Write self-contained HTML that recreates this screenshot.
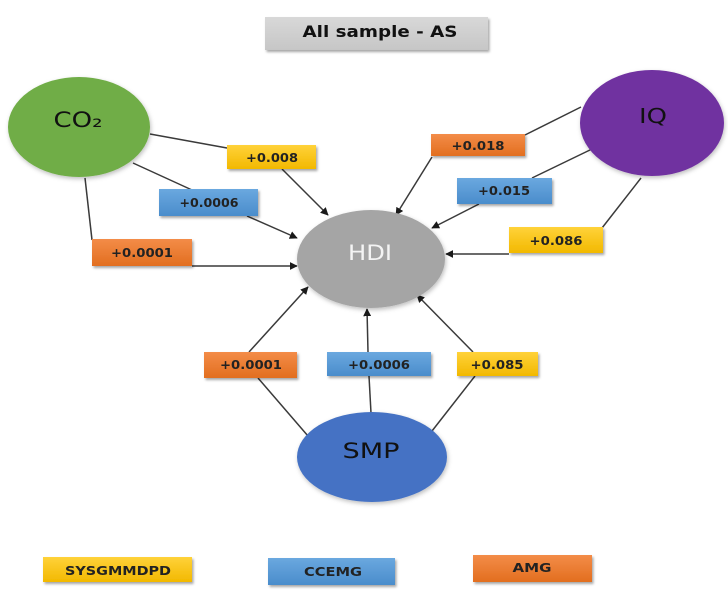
<!DOCTYPE html>
<html><head><meta charset="utf-8"><style>
html,body{margin:0;padding:0;background:#fff;}
svg{display:block;}
text{font-family:"DejaVu Sans","Liberation Sans",sans-serif;}
</style></head><body>
<svg width="728" height="595" viewBox="0 0 728 595" xmlns="http://www.w3.org/2000/svg">
<defs>
<filter id="sh" x="-10%" y="-10%" width="130%" height="150%">
<feDropShadow dx="1.5" dy="2" stdDeviation="1.2" flood-color="#000" flood-opacity="0.35"/>
</filter>
<filter id="esh" x="-10%" y="-10%" width="130%" height="130%">
<feDropShadow dx="1" dy="2" stdDeviation="2" flood-color="#000" flood-opacity="0.25"/>
</filter>
<linearGradient id="gy" x1="0" y1="0" x2="0" y2="1"><stop offset="0" stop-color="#ffd23a"/><stop offset="1" stop-color="#f2b800"/></linearGradient>
<linearGradient id="gb" x1="0" y1="0" x2="0" y2="1"><stop offset="0" stop-color="#6aa8df"/><stop offset="1" stop-color="#4a8ccb"/></linearGradient>
<linearGradient id="go" x1="0" y1="0" x2="0" y2="1"><stop offset="0" stop-color="#f38c48"/><stop offset="1" stop-color="#e26e1f"/></linearGradient>
<linearGradient id="gg" x1="0" y1="0" x2="0" y2="1"><stop offset="0" stop-color="#d8d8d8"/><stop offset="1" stop-color="#c6c6c6"/></linearGradient>
<marker id="ar" viewBox="0 0 10 10" refX="9" refY="5" markerWidth="8" markerHeight="8" orient="auto" markerUnits="userSpaceOnUse">
<path d="M0,0 L10,5 L0,10 z" fill="#1a1a1a"/>
</marker>
</defs>

<!-- title -->
<rect x="265" y="17" width="223" height="33" fill="url(#gg)" filter="url(#sh)"/>
<text x="380" y="37" font-size="16" font-weight="bold" text-anchor="middle" fill="#111" textLength="155" lengthAdjust="spacingAndGlyphs">All sample - AS</text>

<!-- connector lines -->
<g stroke="#3a3a3a" stroke-width="1.5" fill="none">
<line x1="150" y1="134" x2="227" y2="148"/>
<line x1="282" y1="169" x2="328" y2="215" marker-end="url(#ar)"/>
<line x1="133" y1="163" x2="192" y2="190"/>
<line x1="247" y1="216" x2="297" y2="238" marker-end="url(#ar)"/>
<line x1="85" y1="178" x2="92" y2="240"/>
<line x1="192" y1="266" x2="297" y2="266" marker-end="url(#ar)"/>
<line x1="581" y1="107" x2="525" y2="135"/>
<line x1="432" y1="157" x2="396" y2="215" marker-end="url(#ar)"/>
<line x1="592" y1="149" x2="532" y2="178"/>
<line x1="479" y1="204" x2="432" y2="228" marker-end="url(#ar)"/>
<line x1="641" y1="178" x2="602" y2="228"/>
<line x1="509" y1="254" x2="446" y2="254" marker-end="url(#ar)"/>
<line x1="308" y1="436" x2="258" y2="378"/>
<line x1="249" y1="352" x2="308" y2="287" marker-end="url(#ar)"/>
<line x1="371" y1="413" x2="369" y2="376"/>
<line x1="368" y1="352" x2="367" y2="309" marker-end="url(#ar)"/>
<line x1="432" y1="431" x2="475" y2="376"/>
<line x1="473" y1="352" x2="417" y2="295" marker-end="url(#ar)"/>
</g>

<!-- ellipses -->
<ellipse cx="79" cy="127" rx="71" ry="50" fill="#70ad47" filter="url(#esh)"/>
<text x="78" y="127" font-size="21" text-anchor="middle" fill="#111" textLength="49" lengthAdjust="spacingAndGlyphs">CO₂</text>

<ellipse cx="652" cy="123" rx="72" ry="53" fill="#7030a0" filter="url(#esh)"/>
<text x="653" y="123" font-size="20" text-anchor="middle" fill="#111" textLength="28" lengthAdjust="spacingAndGlyphs">IQ</text>

<ellipse cx="371" cy="259" rx="74" ry="49" fill="#a5a5a5" filter="url(#esh)"/>
<text x="370" y="260" font-size="21" text-anchor="middle" fill="#f4f4f4" textLength="44" lengthAdjust="spacingAndGlyphs">HDI</text>

<ellipse cx="372" cy="457" rx="75" ry="45" fill="#4472c4" filter="url(#esh)"/>
<text x="371" y="458" font-size="21" text-anchor="middle" fill="#111" textLength="57" lengthAdjust="spacingAndGlyphs">SMP</text>

<!-- value boxes -->
<g font-size="12.5" font-weight="bold" fill="#222" text-anchor="middle">
<rect x="227" y="145" width="89" height="24" fill="url(#gy)" filter="url(#sh)"/>
<text x="272" y="162" textLength="52" lengthAdjust="spacingAndGlyphs">+0.008</text>

<rect x="159" y="189" width="99" height="27" fill="url(#gb)" filter="url(#sh)"/>
<text x="209" y="207" textLength="59" lengthAdjust="spacingAndGlyphs">+0.0006</text>

<rect x="92" y="239" width="100" height="27" fill="url(#go)" filter="url(#sh)"/>
<text x="142" y="257" textLength="62" lengthAdjust="spacingAndGlyphs">+0.0001</text>

<rect x="431" y="134" width="94" height="22" fill="url(#go)" filter="url(#sh)"/>
<text x="478" y="150" textLength="53" lengthAdjust="spacingAndGlyphs">+0.018</text>

<rect x="457" y="178" width="95" height="26" fill="url(#gb)" filter="url(#sh)"/>
<text x="504" y="195" textLength="52" lengthAdjust="spacingAndGlyphs">+0.015</text>

<rect x="509" y="227" width="94" height="26" fill="url(#gy)" filter="url(#sh)"/>
<text x="556" y="245" textLength="53" lengthAdjust="spacingAndGlyphs">+0.086</text>

<rect x="204" y="352" width="93" height="26" fill="url(#go)" filter="url(#sh)"/>
<text x="251" y="369" textLength="62" lengthAdjust="spacingAndGlyphs">+0.0001</text>

<rect x="327" y="352" width="104" height="24" fill="url(#gb)" filter="url(#sh)"/>
<text x="379" y="369" textLength="62" lengthAdjust="spacingAndGlyphs">+0.0006</text>

<rect x="457" y="352" width="81" height="24" fill="url(#gy)" filter="url(#sh)"/>
<text x="497" y="369" textLength="53" lengthAdjust="spacingAndGlyphs">+0.085</text>

<!-- legend -->
<rect x="43" y="557" width="149" height="25" fill="url(#gy)" filter="url(#sh)"/>
<text x="118" y="575" textLength="106" lengthAdjust="spacingAndGlyphs">SYSGMMDPD</text>

<rect x="268" y="558" width="127" height="27" fill="url(#gb)" filter="url(#sh)"/>
<text x="333" y="576" textLength="58" lengthAdjust="spacingAndGlyphs">CCEMG</text>

<rect x="473" y="555" width="119" height="27" fill="url(#go)" filter="url(#sh)"/>
<text x="532" y="572" textLength="39" lengthAdjust="spacingAndGlyphs">AMG</text>
</g>
</svg>
</body></html>
